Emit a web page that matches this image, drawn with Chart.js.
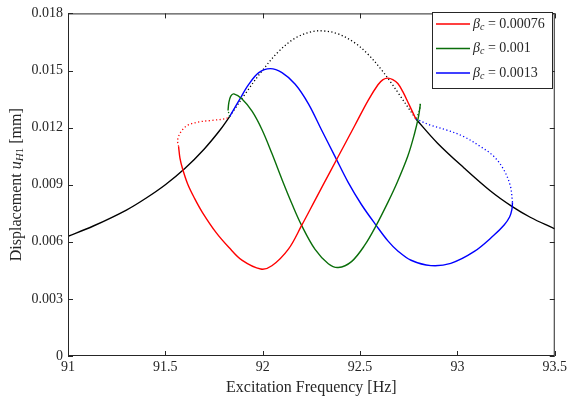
<!DOCTYPE html>
<html>
<head>
<meta charset="utf-8">
<script src="https://cdn.jsdelivr.net/npm/chart.js@4.4.0/dist/chart.umd.min.js"></script>
<style>
  html, body { margin: 0; padding: 0; background: #fff; }
</style>
</head>
<body>
<canvas id="grafico" width="570" height="403"></canvas>
<script>
// Ticks dos eixos
const xTicks = [91, 91.5, 92, 92.5, 93, 93.5]
const yTicks = [0, 0.003, 0.006, 0.009, 0.012, 0.015, 0.018]

// Legenda
const legendValues = ['0.00076', '0.001', '0.0013']

// Curva sem controle (preta) - ramo estavel esquerdo, instavel, estavel direito
const blackLeftFreq = [91.00, 91.13, 91.30, 91.40, 91.50, 91.60, 91.70, 91.78, 91.83]
const blackLeftDisp = [0.00629, 0.00683, 0.00767, 0.00829, 0.0090, 0.00985, 0.01088, 0.01186, 0.01258]
const blackMidFreq = [91.83, 91.912, 91.996, 92.082, 92.167, 92.252, 92.311, 92.388, 92.473, 92.541, 92.609, 92.66, 92.694, 92.787]
const blackMidDisp = [0.01258, 0.0138, 0.01497, 0.016, 0.0167, 0.01704, 0.01708, 0.01692, 0.01645, 0.01585, 0.01505, 0.01435, 0.01385, 0.01245]
const blackRightFreq = [92.787, 92.898, 93.034, 93.17, 93.28, 93.374, 93.5]
const blackRightDisp = [0.01245, 0.01118, 0.00988, 0.00867, 0.00786, 0.00729, 0.00668]

// beta_c = 0.00076 (vermelha)
const redDotFreq = [91.568, 91.563, 91.58, 91.614, 91.673, 91.741, 91.81, 91.83]
const redDotDisp = [0.0110, 0.01135, 0.01178, 0.01212, 0.0123, 0.01238, 0.01247, 0.01258]
const redFreq = [91.568, 91.575, 91.588, 91.614, 91.65, 91.69, 91.759, 91.827, 91.895, 91.99, 92.047, 92.133, 92.2, 92.269, 92.311, 92.388, 92.473, 92.541, 92.592, 92.618, 92.643, 92.668, 92.694, 92.719, 92.753, 92.787]
const redDisp = [0.0110, 0.0104, 0.00985, 0.00905, 0.00828, 0.00755, 0.00651, 0.0057, 0.00502, 0.00457, 0.00474, 0.00563, 0.00686, 0.00819, 0.009, 0.01048, 0.01211, 0.01342, 0.01425, 0.01452, 0.0146, 0.01452, 0.01432, 0.0139, 0.01318, 0.01245]

// beta_c = 0.001 (verde)
const greenDotLeftFreq = [91.83, 91.822]
const greenDotLeftDisp = [0.01258, 0.0129]
const greenFreq = [91.822, 91.826, 91.836, 91.852, 91.894, 91.946, 91.996, 92.047, 92.10, 92.15, 92.2, 92.269, 92.337, 92.388, 92.456, 92.524, 92.583, 92.643, 92.69, 92.745, 92.779, 92.8, 92.81]
const greenDisp = [0.0129, 0.0133, 0.01365, 0.01377, 0.0135, 0.01285, 0.0119, 0.01065, 0.00925, 0.008, 0.00686, 0.0056, 0.00485, 0.00465, 0.00496, 0.00582, 0.00686, 0.00807, 0.0091, 0.01049, 0.01165, 0.01256, 0.01325]
const greenDotRightFreq = [92.81, 92.805, 92.787]
const greenDotRightDisp = [0.01325, 0.0129, 0.01245]

// beta_c = 0.0013 (azul)
const blueFreq = [91.83, 91.878, 91.929, 91.98, 92.039, 92.099, 92.167, 92.235, 92.303, 92.371, 92.439, 92.507, 92.583, 92.643, 92.694, 92.762, 92.864, 92.966, 93.085, 93.187, 93.24, 93.268, 93.28, 93.283]
const blueDisp = [0.01258, 0.01342, 0.01428, 0.01489, 0.0151, 0.01489, 0.01428, 0.01325, 0.01186, 0.01049, 0.00912, 0.00796, 0.00686, 0.00605, 0.00552, 0.00503, 0.00475, 0.00487, 0.00548, 0.00634, 0.00688, 0.0073, 0.0077, 0.00807]
const blueDotFreq = [93.283, 93.272, 93.238, 93.187, 93.119, 93.034, 92.949, 92.864, 92.787]
const blueDotDisp = [0.00807, 0.00893, 0.00979, 0.01049, 0.011, 0.01152, 0.01186, 0.01212, 0.01245]

const axisColor = '#262626'
const serif = '"Liberation Serif", "Times New Roman", serif'
const colors = { red: '#ff0000', green: '#0a6e0a', blue: '#0000ff', black: '#000000' }

function pares(xs, ys) {
  return xs.map((x, i) => ({ x: x, y: ys[i] }))
}

function serie(xs, ys, cor, pontilhado) {
  return {
    data: pares(xs, ys),
    borderColor: cor,
    borderWidth: pontilhado ? 1.3 : 1.4,
    borderDash: pontilhado ? [1.2, 2.4] : [],
    pointRadius: 0,
    showLine: true,
    tension: 0.35,
    fill: false
  }
}

// desenha texto com pedacos em italico / subscrito
function textoRico(ctx, partes, x, y) {
  let cx = x
  partes.forEach(p => {
    ctx.font = p.font
    ctx.fillText(p.t, cx, y + (p.dy || 0))
    cx += ctx.measureText(p.t).width
  })
}

function larguraRica(ctx, partes) {
  let w = 0
  partes.forEach(p => { ctx.font = p.font; w += ctx.measureText(p.t).width })
  return w
}

const molduraEixos = {
  id: 'molduraEixos',
  afterDatasetsDraw(chart) {
    const { ctx, chartArea: a, scales: { x, y } } = chart
    ctx.save()
    ctx.strokeStyle = axisColor
    ctx.lineWidth = 1
    ctx.strokeRect(a.left + 0.5, a.top + 0.5, a.right - a.left - 1, a.bottom - a.top - 1)
    const tl = 5
    ctx.beginPath()
    xTicks.forEach(v => {
      const px = Math.round(x.getPixelForValue(v)) + 0.5
      ctx.moveTo(px, a.bottom); ctx.lineTo(px, a.bottom - tl)
      ctx.moveTo(px, a.top); ctx.lineTo(px, a.top + tl)
    })
    yTicks.forEach(v => {
      const py = Math.round(y.getPixelForValue(v)) + 0.5
      ctx.moveTo(a.left, py); ctx.lineTo(a.left + tl, py)
      ctx.moveTo(a.right, py); ctx.lineTo(a.right - tl, py)
    })
    ctx.stroke()

    // titulos dos eixos
    ctx.fillStyle = axisColor
    ctx.textBaseline = 'middle'
    ctx.textAlign = 'center'
    ctx.font = '16px ' + serif
    ctx.fillText('Excitation Frequency [Hz]', (a.left + a.right) / 2, 388)

    ctx.textAlign = 'left'
    const partesY = [
      { t: 'Displacement ', font: '16px ' + serif },
      { t: 'u', font: 'italic 16px ' + serif },
      { t: 'H', font: 'italic 11px ' + serif, dy: 3 },
      { t: '1', font: '11px ' + serif, dy: 3 },
      { t: ' [mm]', font: '16px ' + serif }
    ]
    ctx.translate(17, (a.top + a.bottom) / 2)
    ctx.rotate(-Math.PI / 2)
    const wy = larguraRica(ctx, partesY)
    textoRico(ctx, partesY, -wy / 2, 0)
    ctx.restore()
  },
  afterDraw(chart) {
    const { ctx } = chart
    ctx.save()
    const bx = 432.5, by = 12.5, bw = 120, bh = 76
    ctx.fillStyle = '#ffffff'
    ctx.fillRect(bx, by, bw, bh)
    ctx.strokeStyle = '#262626'
    ctx.lineWidth = 1
    ctx.strokeRect(bx, by, bw, bh)
    const cores = [colors.red, colors.green, colors.blue]
    const linhasY = [24, 48.5, 73]
    ctx.textBaseline = 'middle'
    ctx.textAlign = 'left'
    legendValues.forEach((val, i) => {
      const ly = linhasY[i]
      ctx.strokeStyle = cores[i]
      ctx.lineWidth = 1.4
      ctx.beginPath()
      ctx.moveTo(436, ly); ctx.lineTo(470, ly)
      ctx.stroke()
      ctx.fillStyle = '#262626'
      textoRico(ctx, [
        { t: '\u03B2', font: 'italic 14px ' + serif },
        { t: 'c', font: 'italic 10px ' + serif, dy: 3 },
        { t: ' = ' + val, font: '14px ' + serif }
      ], 473, ly)
    })
    ctx.restore()
  }
}

const ctx = document.getElementById('grafico')
new Chart(ctx, {
  type: 'scatter',
  data: {
    datasets: [
      serie(redFreq, redDisp, colors.red, false),
      serie(redDotFreq, redDotDisp, colors.red, true),
      serie(greenFreq, greenDisp, colors.green, false),
      serie(greenDotLeftFreq, greenDotLeftDisp, colors.green, true),
      serie(greenDotRightFreq, greenDotRightDisp, colors.green, true),
      serie(blueFreq, blueDisp, colors.blue, false),
      serie(blueDotFreq, blueDotDisp, colors.blue, true),
      serie(blackLeftFreq, blackLeftDisp, colors.black, false),
      serie(blackMidFreq, blackMidDisp, colors.black, true),
      serie(blackRightFreq, blackRightDisp, colors.black, false)
    ]
  },
  options: {
    responsive: false,
    animation: false,
    devicePixelRatio: 1,
    layout: { padding: { left: 0, right: 12, top: 8, bottom: 0 } },
    plugins: { legend: { display: false }, tooltip: { enabled: false } },
    scales: {
      x: {
        type: 'linear',
        min: 91,
        max: 93.5,
        afterBuildTicks: s => { s.ticks = xTicks.map(v => ({ value: v })) },
        afterFit: s => { s.height = 47 },
        grid: { display: false, drawTicks: false },
        border: { display: false },
        ticks: {
          autoSkip: false,
          maxRotation: 0,
          padding: 3,
          color: axisColor,
          font: { family: serif, size: 14 },
          callback: v => String(v)
        }
      },
      y: {
        min: 0,
        max: 0.018,
        afterBuildTicks: s => { s.ticks = yTicks.map(v => ({ value: v })) },
        afterFit: s => { s.width = 68 },
        grid: { display: false, drawTicks: false },
        border: { display: false },
        ticks: {
          padding: 5,
          color: axisColor,
          font: { family: serif, size: 14 },
          callback: v => v === 0 ? '0' : v.toFixed(3)
        }
      }
    }
  },
  plugins: [molduraEixos]
})
</script>
</body>
</html>
